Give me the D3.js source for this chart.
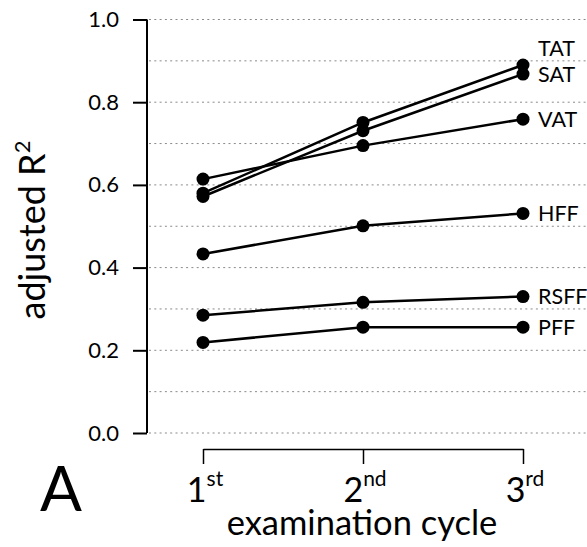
<!DOCTYPE html>
<html>
<head>
<meta charset="utf-8">
<script src="https://cdn.jsdelivr.net/npm/d3@7"></script>
<style>
  body { margin: 0; background: #fff; }
  svg { display: block; font-family: Lato, "Open Sans", sans-serif; }
</style>
</head>
<body>
<div id="chart-area"></div>
<script>
// data
const cycles = ["1", "2", "3"]
const cycleSuffix = ["st", "nd", "rd"]
const seriesNames = ["TAT", "SAT", "VAT", "HFF", "RSFF", "PFF"]
const tatValues = [0.58, 0.751, 0.89]
const satValues = [0.572, 0.731, 0.868]
const vatValues = [0.614, 0.695, 0.759]
const hffValues = [0.433, 0.501, 0.531]
const rsffValues = [0.285, 0.316, 0.330]
const pffValues = [0.219, 0.256, 0.256]
const yTicks = [0.0, 0.2, 0.4, 0.6, 0.8, 1.0]
const gridTicks = [0.0, 0.1, 0.2, 0.3, 0.4, 0.5, 0.6, 0.7, 0.8, 0.9, 1.0]

const series = [tatValues, satValues, vatValues, hffValues, rsffValues, pffValues]
  .map((vals, i) => ({ name: seriesNames[i], values: vals }))

// layout
const WIDTH = 587
const HEIGHT = 547
const AXIS_X = 147
const BRACKET_Y = 449
// small vertical nudge for end labels that would overlap
const labelNudge = { TAT: -17 }

const svg = d3.select("#chart-area").append("svg")
  .attr("width", WIDTH)
  .attr("height", HEIGHT)

const x = d3.scalePoint()
  .domain(cycles)
  .range([203, 523])

const y = d3.scaleLinear()
  .domain([0, 1])
  .range([433, 19.5])

// dotted grid
svg.append("g")
  .attr("class", "grid")
  .selectAll("line")
  .data(gridTicks)
  .enter().append("line")
    .attr("x1", AXIS_X + 2)
    .attr("x2", WIDTH)
    .attr("y1", d => y(d))
    .attr("y2", d => y(d))
    .attr("stroke", "#8a8a8a")
    .attr("stroke-width", 1)
    .attr("stroke-dasharray", "2,3.3")

// Y axis
const yAxisCall = d3.axisLeft(y)
  .tickValues(yTicks)
  .tickSize(14)
  .tickPadding(14)
  .tickFormat(d3.format(".1f"))
const yAxis = svg.append("g")
  .attr("class", "y axis")
  .attr("transform", `translate(${AXIS_X}, 0)`)
  .call(yAxisCall)
yAxis.select(".domain")
  .attr("d", `M0,${y(1)}V${y(0)}`)
  .attr("stroke", "#000")
  .attr("stroke-width", 2)
yAxis.selectAll(".tick line").attr("stroke", "#000").attr("stroke-width", 2)
yAxis.selectAll(".tick text")
  .attr("font-family", "Lato, sans-serif")
  .attr("font-size", "22px")
  .attr("fill", "#000")

// X axis (bracket)
const xAxisCall = d3.axisBottom(x)
  .tickSize(15)
  .tickSizeOuter(0)
  .tickFormat("")
const xAxis = svg.append("g")
  .attr("class", "x axis")
  .attr("transform", `translate(0, ${BRACKET_Y})`)
  .call(xAxisCall)
xAxis.select(".domain").attr("stroke", "#000").attr("stroke-width", 1.5)
xAxis.selectAll(".tick line").attr("stroke", "#000").attr("stroke-width", 1.5)

const xLabels = svg.append("g").attr("class", "x labels")
cycles.forEach((c, i) => {
  const t = xLabels.append("text")
    .attr("x", x(c) + 2)
    .attr("y", 502)
    .attr("text-anchor", "middle")
    .attr("font-size", "34px")
    .attr("fill", "#000")
  t.append("tspan").text(c)
  t.append("tspan")
    .attr("dy", -16)
    .attr("font-size", "21px")
    .text(cycleSuffix[i])
})

// lines and points
const line = d3.line()
  .x((d, i) => x(cycles[i]))
  .y(d => y(d))

const groups = svg.selectAll(".series")
  .data(series)
  .enter().append("g")
    .attr("class", "series")

groups.append("path")
  .attr("d", d => line(d.values))
  .attr("fill", "none")
  .attr("stroke", "#000")
  .attr("stroke-width", 2.5)

groups.selectAll("circle")
  .data(d => d.values)
  .enter().append("circle")
    .attr("cx", (d, i) => x(cycles[i]))
    .attr("cy", d => y(d))
    .attr("r", 6.5)
    .attr("fill", "#000")

groups.append("text")
  .attr("x", x(cycles[2]) + 15)
  .attr("y", d => y(d.values[2]) + (labelNudge[d.name] || 0))
  .attr("dy", "0.36em")
  .attr("font-size", "21.5px")
  .attr("fill", "#000")
  .text(d => d.name)

// Y label
const yTitle = svg.append("text")
  .attr("transform", `translate(45, 230) rotate(-90)`)
  .attr("text-anchor", "middle")
  .attr("font-size", "36px")
  .attr("fill", "#000")
yTitle.append("tspan").text("adjusted R")
yTitle.append("tspan").attr("dy", -15).attr("font-size", "22px").text("2")

// X label
svg.append("text")
  .attr("x", x(cycles[1]) - 1)
  .attr("y", 535)
  .attr("text-anchor", "middle")
  .attr("font-size", "34.5px")
  .attr("fill", "#000")
  .text("examination cycle")

// panel letter
svg.append("text")
  .attr("x", 40)
  .attr("y", 511)
  .attr("font-size", "62px")
  .attr("fill", "#000")
  .text("A")
</script>
</body>
</html>
